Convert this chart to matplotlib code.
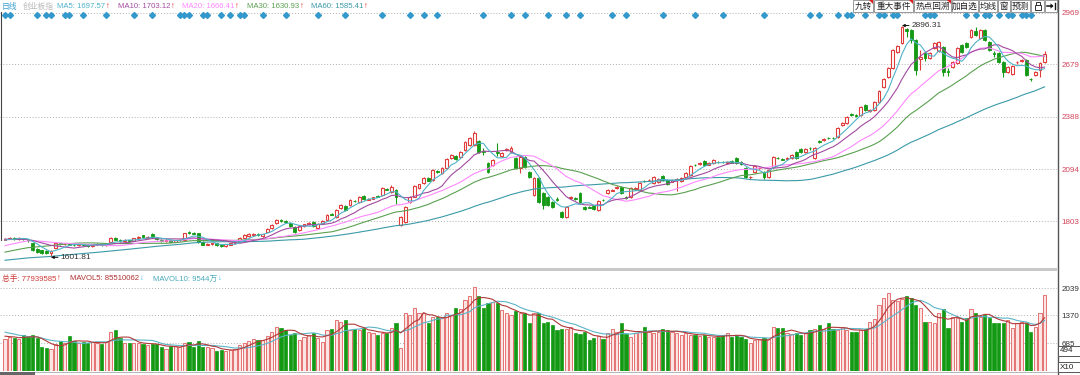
import numpy as np
import pandas as pd
import matplotlib
matplotlib.use("Agg")
import matplotlib.pyplot as plt
from matplotlib.patches import Rectangle, Polygon

plt.rcParams["font.family"] = ["Liberation Sans", "Noto Sans CJK SC", "DejaVu Sans"]

# ---- data ---------------------------------------------------------------
# closes before the first visible candle, only used to warm up the moving averages
PRE_CLOSE = [1560, 1552, 1545, 1538, 1530, 1542, 1528, 1535, 1540, 1532,
             1525, 1538, 1532, 1520, 1530, 1542, 1550, 1548, 1540, 1535,
             1530, 1538, 1545, 1552, 1548, 1540, 1536, 1544, 1550, 1552,
             1552, 1548, 1560, 1566, 1555, 1570, 1562, 1558, 1564, 1565,
             1580, 1590, 1602, 1598, 1615, 1630, 1648, 1660, 1680, 1694,
             1712, 1720, 1705, 1698, 1708, 1690, 1702, 1688, 1702]
PRE_VOL = [1100, 1020, 1080, 1000, 1069, 900, 850, 880, 866]

OPEN = [1700, 1706, 1712, 1704, 1710, 1702, 1680, 1648, 1640, 1636,
        1626, 1655, 1680, 1674, 1678, 1672, 1668, 1674, 1670, 1666,
        1672, 1676, 1670, 1690, 1710, 1698, 1694, 1698, 1694, 1708,
        1724, 1712, 1734, 1712, 1700, 1692, 1698, 1690, 1696, 1698,
        1744, 1738, 1736, 1688, 1672, 1674, 1680, 1672, 1666, 1672,
        1680, 1688, 1712, 1722, 1728, 1734, 1722, 1745, 1765, 1793,
        1808, 1803, 1794, 1770, 1754, 1776, 1788, 1800, 1766, 1793,
        1810, 1846, 1826, 1877, 1888, 1894, 1918, 1910, 1944, 1924,
        1930, 1946, 1950, 1986, 1966, 1978, 1782, 1800, 1910, 1940,
        1990, 2016, 2046, 2034, 2084, 2072, 2100, 2156, 2168, 2162,
        2201, 2229, 2229, 2252, 2198, 2130, 2117, 2190, 2167, 2200,
        2190, 2156, 2100, 2162, 2078, 1950, 2044, 1960, 1939, 1910,
        1930, 1855, 1827, 1934, 1932, 1960, 1883, 1885, 1888, 1866,
        1924, 1960, 1975, 1990, 1994, 1936, 1939, 1986, 1978, 2030,
        2032, 2016, 2020, 2056, 2034, 2024, 2036, 2028, 2050, 2061,
        2119, 2125, 2139, 2120, 2128, 2136, 2136, 2128, 2140, 2156,
        2134, 2100, 2048, 2078, 2098, 2078, 2050, 2106, 2158, 2152,
        2150, 2156, 2190, 2206, 2190, 2214, 2156, 2252, 2258, 2270,
        2270, 2274, 2341, 2352, 2400, 2396, 2397, 2452, 2420, 2424,
        2469, 2553, 2609, 2659, 2748, 2799, 2877, 2871, 2815, 2710,
        2742, 2715, 2770, 2755, 2776, 2640, 2665, 2687, 2787, 2800,
        2832, 2865, 2826, 2871, 2804, 2745, 2742, 2692, 2637, 2626,
        2690, 2700, 2703, 2600, 2620, 2648, 2692]
CLOSE = [1706, 1712, 1704, 1710, 1702, 1696, 1640, 1634, 1626, 1628,
         1636, 1680, 1674, 1678, 1672, 1668, 1674, 1670, 1666, 1672,
         1676, 1670, 1678, 1710, 1700, 1694, 1698, 1692, 1708, 1716,
         1714, 1718, 1716, 1702, 1692, 1698, 1690, 1696, 1700, 1736,
         1738, 1734, 1688, 1672, 1678, 1680, 1670, 1666, 1674, 1680,
         1686, 1710, 1726, 1732, 1734, 1726, 1730, 1760, 1782, 1810,
         1803, 1798, 1776, 1746, 1776, 1787, 1794, 1776, 1790, 1804,
         1838, 1840, 1866, 1894, 1866, 1922, 1914, 1939, 1927, 1930,
         1936, 1940, 1989, 1980, 1994, 1940, 1827, 1883, 1939, 2000,
         2010, 2045, 2030, 2089, 2078, 2100, 2150, 2173, 2150, 2190,
         2246, 2268, 2296, 2190, 2192, 2078, 2145, 2186, 2184, 2206,
         2212, 2100, 2160, 2106, 2050, 2044, 1911, 1894, 1894, 1883,
         1924, 1827, 1883, 1940, 1928, 1910, 1872, 1880, 1872, 1916,
         1920, 1978, 1980, 1995, 1960, 1932, 1989, 1990, 2016, 2026,
         2036, 2050, 2040, 2034, 2011, 2032, 2040, 2045, 2072, 2111,
         2115, 2130, 2117, 2128, 2145, 2132, 2132, 2132, 2130, 2128,
         2124, 2050, 2052, 2111, 2102, 2050, 2089, 2162, 2154, 2148,
         2156, 2173, 2156, 2190, 2206, 2210, 2212, 2248, 2264, 2266,
         2266, 2324, 2352, 2385, 2396, 2392, 2441, 2424, 2426, 2469,
         2530, 2597, 2659, 2759, 2781, 2888, 2866, 2815, 2648, 2718,
         2715, 2745, 2800, 2805, 2637, 2635, 2692, 2770, 2748, 2775,
         2871, 2843, 2871, 2815, 2759, 2740, 2692, 2637, 2665, 2670,
         2694, 2704, 2620, 2596, 2637, 2687, 2737]
HIGH = [1712, 1716, 1715, 1714, 1712, 1705, 1684, 1652, 1644, 1640,
        1640, 1684, 1684, 1682, 1680, 1676, 1678, 1677, 1673, 1676,
        1680, 1679, 1682, 1714, 1713, 1702, 1702, 1700, 1712, 1720,
        1728, 1722, 1738, 1716, 1704, 1702, 1701, 1700, 1704, 1740,
        1750, 1742, 1740, 1692, 1682, 1684, 1683, 1676, 1678, 1684,
        1690, 1714, 1730, 1736, 1738, 1737, 1734, 1764, 1786, 1814,
        1814, 1808, 1798, 1774, 1780, 1790, 1798, 1804, 1794, 1808,
        1842, 1850, 1870, 1898, 1892, 1926, 1922, 1944, 1948, 1934,
        1940, 1950, 1994, 1990, 2005, 1982, 1832, 1888, 1944, 2004,
        2014, 2050, 2050, 2094, 2090, 2105, 2155, 2178, 2172, 2195,
        2251, 2273, 2306, 2256, 2215, 2134, 2150, 2240, 2190, 2212,
        2225, 2160, 2165, 2166, 2082, 2048, 2048, 1965, 1944, 1915,
        1936, 1860, 1888, 1946, 1936, 1965, 1888, 1890, 1892, 1920,
        1930, 1982, 1985, 2000, 1998, 1942, 1994, 1996, 2020, 2036,
        2042, 2055, 2046, 2060, 2038, 2037, 2046, 2050, 2077, 2116,
        2125, 2136, 2144, 2134, 2150, 2142, 2140, 2138, 2145, 2162,
        2138, 2104, 2058, 2116, 2108, 2082, 2094, 2166, 2164, 2158,
        2162, 2178, 2194, 2210, 2210, 2220, 2216, 2258, 2270, 2276,
        2275, 2328, 2357, 2390, 2406, 2402, 2446, 2456, 2432, 2474,
        2535, 2602, 2664, 2764, 2788, 2896.31, 2884, 2876, 2820, 2760,
        2748, 2750, 2806, 2812, 2782, 2660, 2698, 2776, 2792, 2806,
        2878, 2890, 2876, 2876, 2810, 2752, 2748, 2698, 2670, 2676,
        2700, 2712, 2708, 2606, 2645, 2692, 2755]
LOW = [1696, 1702, 1700, 1700, 1698, 1690, 1636, 1628, 1620, 1622,
       1601.81, 1652, 1670, 1670, 1668, 1664, 1664, 1666, 1662, 1662,
       1668, 1666, 1667, 1688, 1697, 1690, 1690, 1688, 1692, 1705,
       1710, 1708, 1712, 1698, 1688, 1689, 1686, 1687, 1692, 1696,
       1734, 1730, 1684, 1668, 1668, 1670, 1666, 1660, 1662, 1668,
       1676, 1686, 1708, 1718, 1724, 1722, 1718, 1742, 1762, 1790,
       1798, 1792, 1772, 1740, 1750, 1772, 1784, 1772, 1762, 1790,
       1806, 1836, 1822, 1872, 1862, 1890, 1910, 1906, 1922, 1920,
       1926, 1936, 1946, 1976, 1962, 1900, 1776, 1796, 1906, 1936,
       1986, 2012, 2026, 2030, 2072, 2068, 2096, 2152, 2146, 2158,
       2197, 2225, 2225, 2185, 2175, 2072, 2112, 2170, 2162, 2195,
       2186, 2095, 2075, 2100, 2045, 1944, 1905, 1870, 1888, 1878,
       1918, 1820, 1822, 1928, 1922, 1905, 1866, 1875, 1866, 1862,
       1915, 1955, 1970, 1984, 1955, 1926, 1935, 1980, 1974, 2020,
       2026, 2012, 2016, 2030, 2006, 2020, 1975, 2024, 2046, 2057,
       2110, 2120, 2112, 2116, 2124, 2128, 2127, 2124, 2126, 2124,
       2120, 2045, 2040, 2074, 2094, 2040, 2046, 2102, 2150, 2144,
       2146, 2152, 2152, 2186, 2186, 2204, 2152, 2242, 2252, 2260,
       2262, 2270, 2336, 2348, 2390, 2386, 2392, 2420, 2414, 2420,
       2465, 2548, 2604, 2655, 2744, 2795, 2830, 2800, 2620, 2650,
       2700, 2708, 2764, 2748, 2615, 2615, 2660, 2682, 2742, 2770,
       2826, 2838, 2820, 2808, 2752, 2720, 2686, 2610, 2632, 2620,
       2684, 2694, 2614, 2588, 2614, 2610, 2686]
# volume in the axis unit (x10 万手)
VOLUME = [779, 843, 818, 786, 885, 843, 877, 803, 582, 573,
          540, 663, 745, 680, 860, 737, 680, 720, 680, 720,
          695, 663, 720, 950, 1007, 803, 695, 695, 695, 695,
          663, 639, 663, 655, 582, 532, 614, 614, 598, 695,
          712, 582, 737, 598, 582, 557, 499, 516, 499, 516,
          540, 639, 695, 737, 778, 762,
          762, 860, 966, 1089, 1065, 1007, 885, 926, 762, 844,
          885, 926, 803, 721, 1007, 1023, 1253, 1212, 1253, 1007,
          1023, 1007, 1048, 966, 926, 885, 942, 942, 1048, 1187,
          557, 1417, 1376, 1540, 1417, 1417, 1171, 1335, 1335, 1294,
          1417, 1376, 1540, 1515, 1744, 1843, 2056, 1843, 1540, 1662,
          1703, 1678, 1499, 1417, 1376, 1483, 1417, 1417, 1171, 1417,
          1417, 1187, 1212, 1130, 1007, 1023, 1023, 1089, 926, 909,
          966, 762, 803, 860, 778, 942, 1023, 966, 1187, 909,
          844, 942, 966, 1089, 966, 926, 966, 1023, 1007, 966,
          926, 885, 926, 885, 885, 860, 885, 827, 844, 827,
          885, 942, 844, 885, 827, 778, 680, 762, 778, 803,
          778, 1089, 1048, 1048, 926, 909, 942, 885, 926, 1007,
          1023, 1130, 1023, 1171, 1023, 1007, 1089, 1007, 966, 966,
          1007, 1023, 1212, 1269, 1622, 1794, 1925, 1744, 1728, 1761,
          1843, 1785, 1622, 1540, 1212, 1212, 1171, 1417, 1515, 1048,
          1335, 1294, 1212, 1294, 1515, 1433, 1335, 1376, 1294, 1171,
          1171, 1171, 1253, 1048, 1171, 1212, 1187, 966, 1089, 1425, 1867]
# candles carrying an event marker (blue diamonds on the top row)
EVENTS = [0, 1, 7, 9, 10, 13, 14, 17, 22, 28, 32, 38, 39, 40, 43, 44, 47, 49,
          51, 52, 56, 61, 68, 74, 82, 88, 91, 94, 104, 110, 113, 118, 122, 125,
          132, 135, 143, 150, 156, 165, 175, 177, 181, 183, 184, 187, 190, 191,
          193, 194, 200, 201, 202, 209, 211, 213, 214, 216, 218, 219, 221, 222, 223]
PRICE_TICKS = [1803, 2094, 2388, 2679, 2969]
VOL_TICKS = [685, 1370, 2039]
MA_LEGEND = [("MA5", "1697.57"), ("MA10", "1703.12"), ("MA20", "1666.41"),
             ("MA30", "1630.93"), ("MA60", "1585.41")]

RED, GREEN = "#e03c3c", "#139913"
MA_COLORS = {"MA5": "#4fb3c8", "MA10": "#a24aa0", "MA20": "#ff88ff",
             "MA30": "#5aa050", "MA60": "#3a9aa8"}

W, H = 1080, 375
fig = plt.figure(figsize=(W / 100, H / 100), dpi=100)
renderer = fig.canvas.get_renderer()


def axes_px(x0, y0, x1, y1, **kw):
    return fig.add_axes([x0 / W, 1 - y1 / H, (x1 - x0) / W, (y1 - y0) / H], **kw)


n = len(CLOSE)
x = np.arange(n)
o, c, hi, lo = map(np.array, (OPEN, CLOSE, HIGH, LOW))
up = c >= o
XLIM = (-1.09, 228.7)

# ---- price panel ----------------------------------------------------------
ax = axes_px(0, 10, 1057, 268)
ax.set_xlim(*XLIM)
ax.set_ylim(1542.2, 2983.1)
for s in ax.spines.values():
    s.set_visible(False)
ax.set_xticks([])
ax.set_yticks(PRICE_TICKS)
ax.yaxis.tick_right()
ax.tick_params(axis="y", length=0, pad=3, labelsize=5.8, labelcolor="#d2455a")
ax.grid(axis="y", linestyle=(0, (1, 2)), color="#b0b0b0", lw=0.7)

ax.vlines(x[up], lo[up], hi[up], color=RED, lw=0.8, zorder=2)
ax.vlines(x[~up], lo[~up], hi[~up], color=GREEN, lw=0.8, zorder=2)
body = np.maximum(np.abs(c - o), 1.5)
ax.bar(x[up], body[up], bottom=o[up], width=0.62, facecolor="white",
       edgecolor=RED, lw=0.8, zorder=3)
ax.bar(x[~up], body[~up], bottom=c[~up], width=0.62, facecolor=GREEN,
       edgecolor=GREEN, lw=0.6, zorder=3)

closes = pd.Series(PRE_CLOSE + CLOSE)
for name, win in [("MA60", 60), ("MA30", 30), ("MA20", 20), ("MA10", 10), ("MA5", 5)]:
    ma = closes.rolling(win).mean().to_numpy()[-n:]
    ax.plot(x, ma, color=MA_COLORS[name], lw=0.8, zorder=4)

ax.plot(EVENTS, [0.98] * len(EVENTS), "D", ms=3.0, color="#3399cc",
        transform=ax.get_xaxis_transform(), clip_on=False, zorder=5)

ihi = int(np.argmax(hi))
ilo = int(np.argmin(lo))
for idx, val in [(ihi, hi[ihi]), (ilo, lo[ilo])]:
    ax.annotate(f"{val:.2f}", xy=(idx, val), xytext=(7, 0), textcoords="offset points",
                fontsize=6, color="#333333", va="center", ha="left",
                arrowprops=dict(arrowstyle="-|>", color="#111111", lw=0.7,
                                mutation_scale=4, shrinkA=0, shrinkB=0), zorder=6)

# ---- volume panel ---------------------------------------------------------
av = axes_px(0, 274, 1057, 371)
av.set_xlim(*XLIM)
av.set_ylim(0, 2383)
for s in av.spines.values():
    s.set_visible(False)
av.set_xticks([])
av.set_yticks(VOL_TICKS)
av.yaxis.tick_right()
av.tick_params(axis="y", length=0, pad=3, labelsize=5.8, labelcolor="#333333")
av.grid(axis="y", linestyle=(0, (1, 2)), color="#b0b0b0", lw=0.7)
vol = np.array(VOLUME)
av.bar(x[up], vol[up], width=0.72, facecolor="#fbe4e4", edgecolor="#e57373", lw=0.7, zorder=3)
av.bar(x[~up], vol[~up], width=0.72, facecolor=GREEN, edgecolor=GREEN, lw=0.5, zorder=3)
vols = pd.Series(PRE_VOL + VOLUME)
av.plot(x, vols.rolling(10).mean().to_numpy()[-n:], color="#5bb4c8", lw=0.8, zorder=4)
av.plot(x, vols.rolling(5).mean().to_numpy()[-n:], color="#b03a3a", lw=0.8, zorder=4)

# ---- overlay: legends, toolbar, frame ------------------------------------
ov = fig.add_axes([0, 0, 1, 1], facecolor="none")
ov.set_xlim(0, W)
ov.set_ylim(H, 0)
ov.axis("off")

fs = 5.6


def legend_item(x0, y, label, color, arrow, arrow_color):
    """text followed by a small trend arrow placed right after its measured end"""
    t = ov.text(x0, y, label, fontsize=fs, color=color, va="center")
    x_end = t.get_window_extent(renderer).x1
    ov.text(x_end + 1, y, arrow, fontsize=fs, color=arrow_color, va="center",
            fontweight="bold")


ov.text(2, 6.5, "日线", fontsize=fs, color="#3a9fd0", va="center")
ov.text(23, 6.5, "创业板指", fontsize=fs, color="#bbbbbb", va="center")
for (name, val), lx in zip(MA_LEGEND, [57, 118, 182, 247, 311]):
    legend_item(lx, 6.5, f"{name}: {val}", MA_COLORS[name], "↑", "#e02020")

legend_item(2, 279, "总手: 77939585", "#d03a3a", "↑", "#e02020")
legend_item(70, 279, "MAVOL5: 85510062", "#b03030", "↓", "#33bbee")
legend_item(153, 279, "MAVOL10: 9544万", "#4aaabb", "↓", "#33bbee")

# toolbar buttons
BUTTONS = [(853, 873, "九转", True), (874, 913, "重大事件", True), (914, 951, "热点回溯", True),
           (952, 978, "加自选", False), (979, 997, "均线", False), (998, 1010, "窗", False),
           (1011, 1030, "预测", False), (1031, 1044, "", False), (1045, 1057, "", False)]
for bx0, bx1, lab, flag in BUTTONS:
    ov.add_patch(Rectangle((bx0, 0), bx1 - bx0, 11.5, facecolor="white",
                           edgecolor="#8a8a8a", lw=0.6, zorder=5))
    if lab:
        ov.text((bx0 + bx1) / 2, 6.2, lab, fontsize=6.2, color="#222222",
                ha="center", va="center", zorder=6)
    if flag:
        ov.add_patch(Polygon([(bx1 - 4, 0), (bx1, 0), (bx1, 4)], closed=True,
                             facecolor="#e02020", edgecolor="none", zorder=6))
# lock icon
ov.add_patch(Rectangle((1034.5, 5), 6, 4.5, facecolor="none", edgecolor="#333", lw=0.7, zorder=6))
ov.plot([1035.5, 1035.5, 1039.5, 1039.5], [5, 2, 2, 5], color="#333", lw=0.7, zorder=6)
# collapse icon
ov.plot([1047, 1052], [6, 6], color="#111", lw=1.1, zorder=6)
ov.add_patch(Polygon([(1050.5, 3.3), (1053.5, 6), (1050.5, 8.7)], closed=True,
                     facecolor="#111", edgecolor="none", zorder=6))
ov.plot([1054.5, 1054.5], [3, 9], color="#111", lw=1.0, zorder=6)

# frame pieces
ov.add_patch(Rectangle((0, 268), 1057, 3, facecolor="#c8c8c8", edgecolor="none", zorder=4))
ov.plot([1057.5, 1057.5], [0, H], color="#555555", lw=1.0, zorder=5)
ov.plot([1, 1], [12, 240], color="#444444", lw=0.8, zorder=5)
ov.plot([0, 1057], [371.7, 371.7], color="#aaaaaa", lw=0.6, zorder=5)
ov.add_patch(Rectangle((0, 372), 35, 3, facecolor="#666666", edgecolor="none", zorder=5))

# current-value boxes on the volume axis
ov.add_patch(Rectangle((1058, 346), 22, 9.5, facecolor="white", edgecolor="#555555", lw=0.7, zorder=6))
ov.text(1060, 351, "494", fontsize=5.8, color="#222222", va="center", zorder=7)
ov.add_patch(Rectangle((1058, 362), 22, 10, facecolor="white", edgecolor="#555555", lw=0.7, zorder=6))
ov.text(1060, 367.3, "X10", fontsize=5.8, color="#222222", va="center", zorder=7)

fig.savefig("out.png", dpi=100)
